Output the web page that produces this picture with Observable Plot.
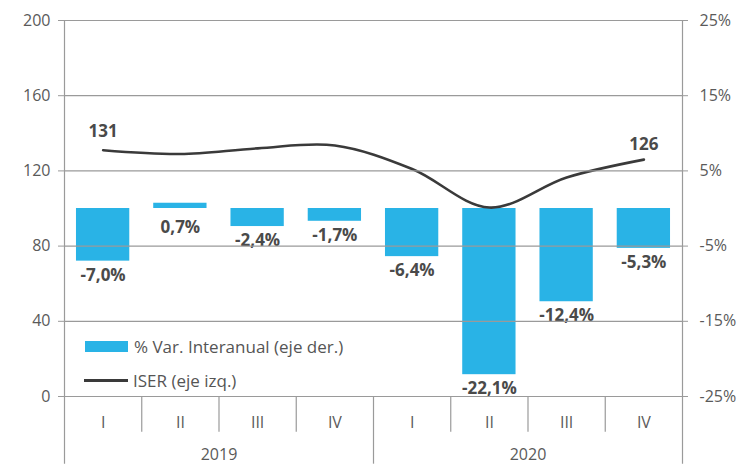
<!DOCTYPE html>
<html>
<head>
<meta charset="utf-8">
<script src="https://cdn.jsdelivr.net/npm/d3@7"></script>
<script src="https://cdn.jsdelivr.net/npm/@observablehq/plot@0.6"></script>
<style>
  html, body { margin: 0; padding: 0; background: #fff; }
  #wrap { position: relative; width: 740px; height: 464px; font-family: "Open Sans", sans-serif; }
  .leg { position: absolute; display: flex; align-items: center; font-size: 17px; color: #555; }
  .sw-bar { width: 43px; height: 11px; background: #29b3e6; margin-right: 6px; }
  .sw-line { width: 44px; height: 3px; background: #3a3a3a; margin-right: 5px; }
</style>
</head>
<body>
<div id="wrap"></div>
<script>
const quarters = ["I", "II", "III", "IV", "I", "II", "III", "IV"];
const years = ["2019", "2020"];
const varPct = [-7.0, 0.7, -2.4, -1.7, -6.4, -22.1, -12.4, -5.3];
const iser = [131, 129, 132, 133.5, 121, 100.5, 116.5, 126];
const leftTicks = [0, 40, 80, 120, 160, 200];
const rightTicks = [-25, -15, -5, 5, 15, 25];
const seriesNames = ["% Var. Interanual (eje der.)", "ISER (eje izq.)"];

// right axis (%) maps onto left axis: 0% -> 100, 10% -> 40
const toLeft = p => 100 + p * 4;

const rows = quarters.map((q, i) => ({
  i, q, year: years[Math.floor(i / 4)], pct: varPct[i], iser: iser[i]
}));
const fmtPct = p => p.toFixed(1).replace(".", ",") + "%";

const gray = "#9a9a9a";
const txt = "#5a5a5a";
const lab = "#4a4a4a";

const barLabel = (data, dy) => Plot.text(data, {
  x: d => d.i + 0.5, y: d => Math.min(100, toLeft(d.pct)),
  text: d => fmtPct(d.pct), dy,
  fontSize: 17, fontWeight: "bold", fill: lab
});

const chart = Plot.plot({
  width: 740,
  height: 464,
  marginLeft: 64,
  marginRight: 58,
  marginTop: 20,
  marginBottom: 68,
  style: { fontFamily: "Open Sans, sans-serif", background: "#fff" },
  x: { type: "linear", domain: [0, 8], axis: null },
  y: { domain: [0, 200], axis: null },
  marks: [
    Plot.rectY(rows, {
      x1: d => d.i + 0.155, x2: d => d.i + 0.845,
      y1: 100, y2: d => toLeft(d.pct), fill: "#29b3e6"
    }),
    Plot.line(rows, {
      x: d => d.i + 0.5, y: "iser", curve: "catmull-rom",
      stroke: "#3a3a3a", strokeWidth: 2.6
    }),
    barLabel(rows.filter(d => d.pct < 0), 14),
    barLabel(rows.filter(d => d.pct >= 0), 19),
    Plot.text([rows[0]], {
      x: d => d.i + 0.5, y: "iser", text: d => String(Math.round(d.iser)),
      dy: -19, fontSize: 17, fontWeight: "bold", fill: lab
    }),
    Plot.text([rows[rows.length - 1]], {
      x: d => d.i + 0.5, y: "iser", text: d => String(Math.round(d.iser)),
      dy: -15, fontSize: 17, fontWeight: "bold", fill: lab
    }),
    // axis lines
    Plot.ruleX([0, 8], { y1: -36, y2: 200, stroke: gray, strokeWidth: 1.2 }),
    Plot.ruleY([0], { x1: 0, x2: 8, stroke: gray, strokeWidth: 1.2 }),
    // category dividers
    Plot.ruleX(rows.filter(d => d.i % 4 !== 0), { x: "i", y1: 0, y2: -19, stroke: gray, strokeWidth: 1.2 }),
    Plot.ruleX(rows.filter(d => d.i === 4), { x: "i", y1: 0, y2: -36, stroke: gray, strokeWidth: 1.2 }),
    Plot.text(rows, { x: d => d.i + 0.5, y: 0, dy: 26, text: "q", fontSize: 16, fill: txt }),
    Plot.text(years, { x: (d, i) => i * 4 + 2, y: 0, dy: 58, text: d => d, fontSize: 16, fill: txt }),
    // left axis
    Plot.axisY({
      anchor: "left", ticks: leftTicks, tickSize: 6, tickPadding: 8,
      label: null, stroke: gray, color: txt, fontSize: 16, tickFormat: d => String(d)
    }),
    // right axis
    Plot.axisY({
      anchor: "right", ticks: leftTicks, tickSize: 5, tickPadding: 12,
      label: null, stroke: gray, color: txt, fontSize: 16,
      tickFormat: (d, i) => rightTicks[i] + "%"
    }),
    Plot.tickY(leftTicks, { y: d => d, x1: 7.95, x2: 8, stroke: gray, strokeWidth: 1.2 })
  ]
});

const wrap = document.getElementById("wrap");
wrap.appendChild(chart);

const l1 = document.createElement("div");
l1.className = "leg";
l1.style.left = "85px"; l1.style.top = "335px";
l1.innerHTML = '<span class="sw-bar"></span><span></span>';
l1.lastChild.textContent = seriesNames[0];
wrap.appendChild(l1);

const l2 = document.createElement("div");
l2.className = "leg";
l2.style.left = "84px"; l2.style.top = "369px";
l2.innerHTML = '<span class="sw-line"></span><span></span>';
l2.lastChild.textContent = seriesNames[1];
wrap.appendChild(l2);
</script>
</body>
</html>
